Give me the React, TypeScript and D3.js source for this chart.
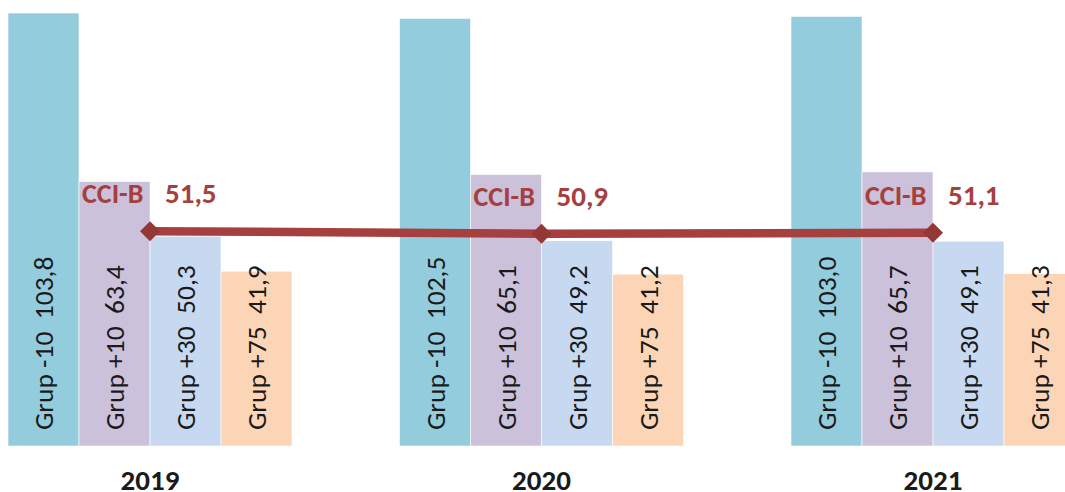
import React from "react";
import * as d3 from "d3";

const years = ["2019", "2020", "2021"];
const groups = ["Grup -10", "Grup +10", "Grup +30", "Grup +75"];
const grupMinus10 = [103.8, 102.5, 103.0];
const grupPlus10 = [63.4, 65.1, 65.7];
const grupPlus30 = [50.3, 49.2, 49.1];
const grupPlus75 = [41.9, 41.2, 41.3];
const cciB = [51.5, 50.9, 51.1];
const lineLabel = "CCI-B";

const colors = ["#93CDDD", "#CCC1DA", "#C6D9F1", "#FBD5B5"];
const lineColor = "#A5403F";
const markerColor = "#953735";

const fmt = (v: number) => v.toFixed(1).replace(".", ",");

export default function App() {
  const W = 1065, H = 492;
  const series = [grupMinus10, grupPlus10, grupPlus30, grupPlus75];
  const x0 = d3.scaleLinear().domain([0, years.length - 1]).range([8, 791]);
  const x1 = d3.scaleBand<string>().domain(groups).range([0, 284]).padding(0);
  const y = d3.scaleLinear().domain([0, 103.8]).range([446, 13]);
  const lineX = (i: number) => x0(i) + (x1("Grup +30") as number);
  const line = d3.line<number>().x((_, i) => lineX(i)).y((d) => y(d));
  const font = "Carlito, Calibri, Lato, 'Open Sans', sans-serif";

  return (
    <svg width={W} height={H} style={{ position: "absolute", left: 0, top: 0, background: "#fff" }} fontFamily={font}>
      {years.map((yr, i) => (
        <g key={yr}>
          {groups.map((g, j) => {
            const v = series[j][i];
            const bx = x0(i) + (x1(g) as number);
            const bw = x1.bandwidth();
            return (
              <g key={g}>
                <rect x={bx} y={y(v)} width={bw} height={y(0) - y(v)} fill={colors[j]} stroke="#fff" strokeWidth={0.6} />
                <text
                  transform={`translate(${bx + bw / 2 + 9.5},${y(0) - 16}) rotate(-90)`}
                  fontSize={27.5}
                  fill="#1a1a1a"
                  textAnchor="start"
                  style={{ whiteSpace: "pre" }}
                >
                  {`${g}  ${fmt(v)}`}
                </text>
              </g>
            );
          })}
          <text x={x0(i) + 142} y={490} textAnchor="middle" fontWeight="bold" fontSize={29} fill="#1a1a1a">
            {yr}
          </text>
        </g>
      ))}
      <path d={line(cciB) || ""} fill="none" stroke={lineColor} strokeWidth={8.5} />
      {cciB.map((v, i) => {
        const cx = lineX(i), cy = y(v);
        return (
          <g key={i}>
            <path d={`M${cx - 10},${cy} L${cx},${cy - 10} L${cx + 10},${cy} L${cx},${cy + 10} Z`} fill={markerColor} />
            <text x={x0(i) + (x1("Grup +10") as number) + 3} y={cy - 28} fontWeight="bold" fontSize={28} fill={lineColor}>
              {lineLabel}
            </text>
            <text x={cx + 15} y={cy - 28} fontWeight="bold" fontSize={29} fill={lineColor}>
              {fmt(v)}
            </text>
          </g>
        );
      })}
    </svg>
  );
}
